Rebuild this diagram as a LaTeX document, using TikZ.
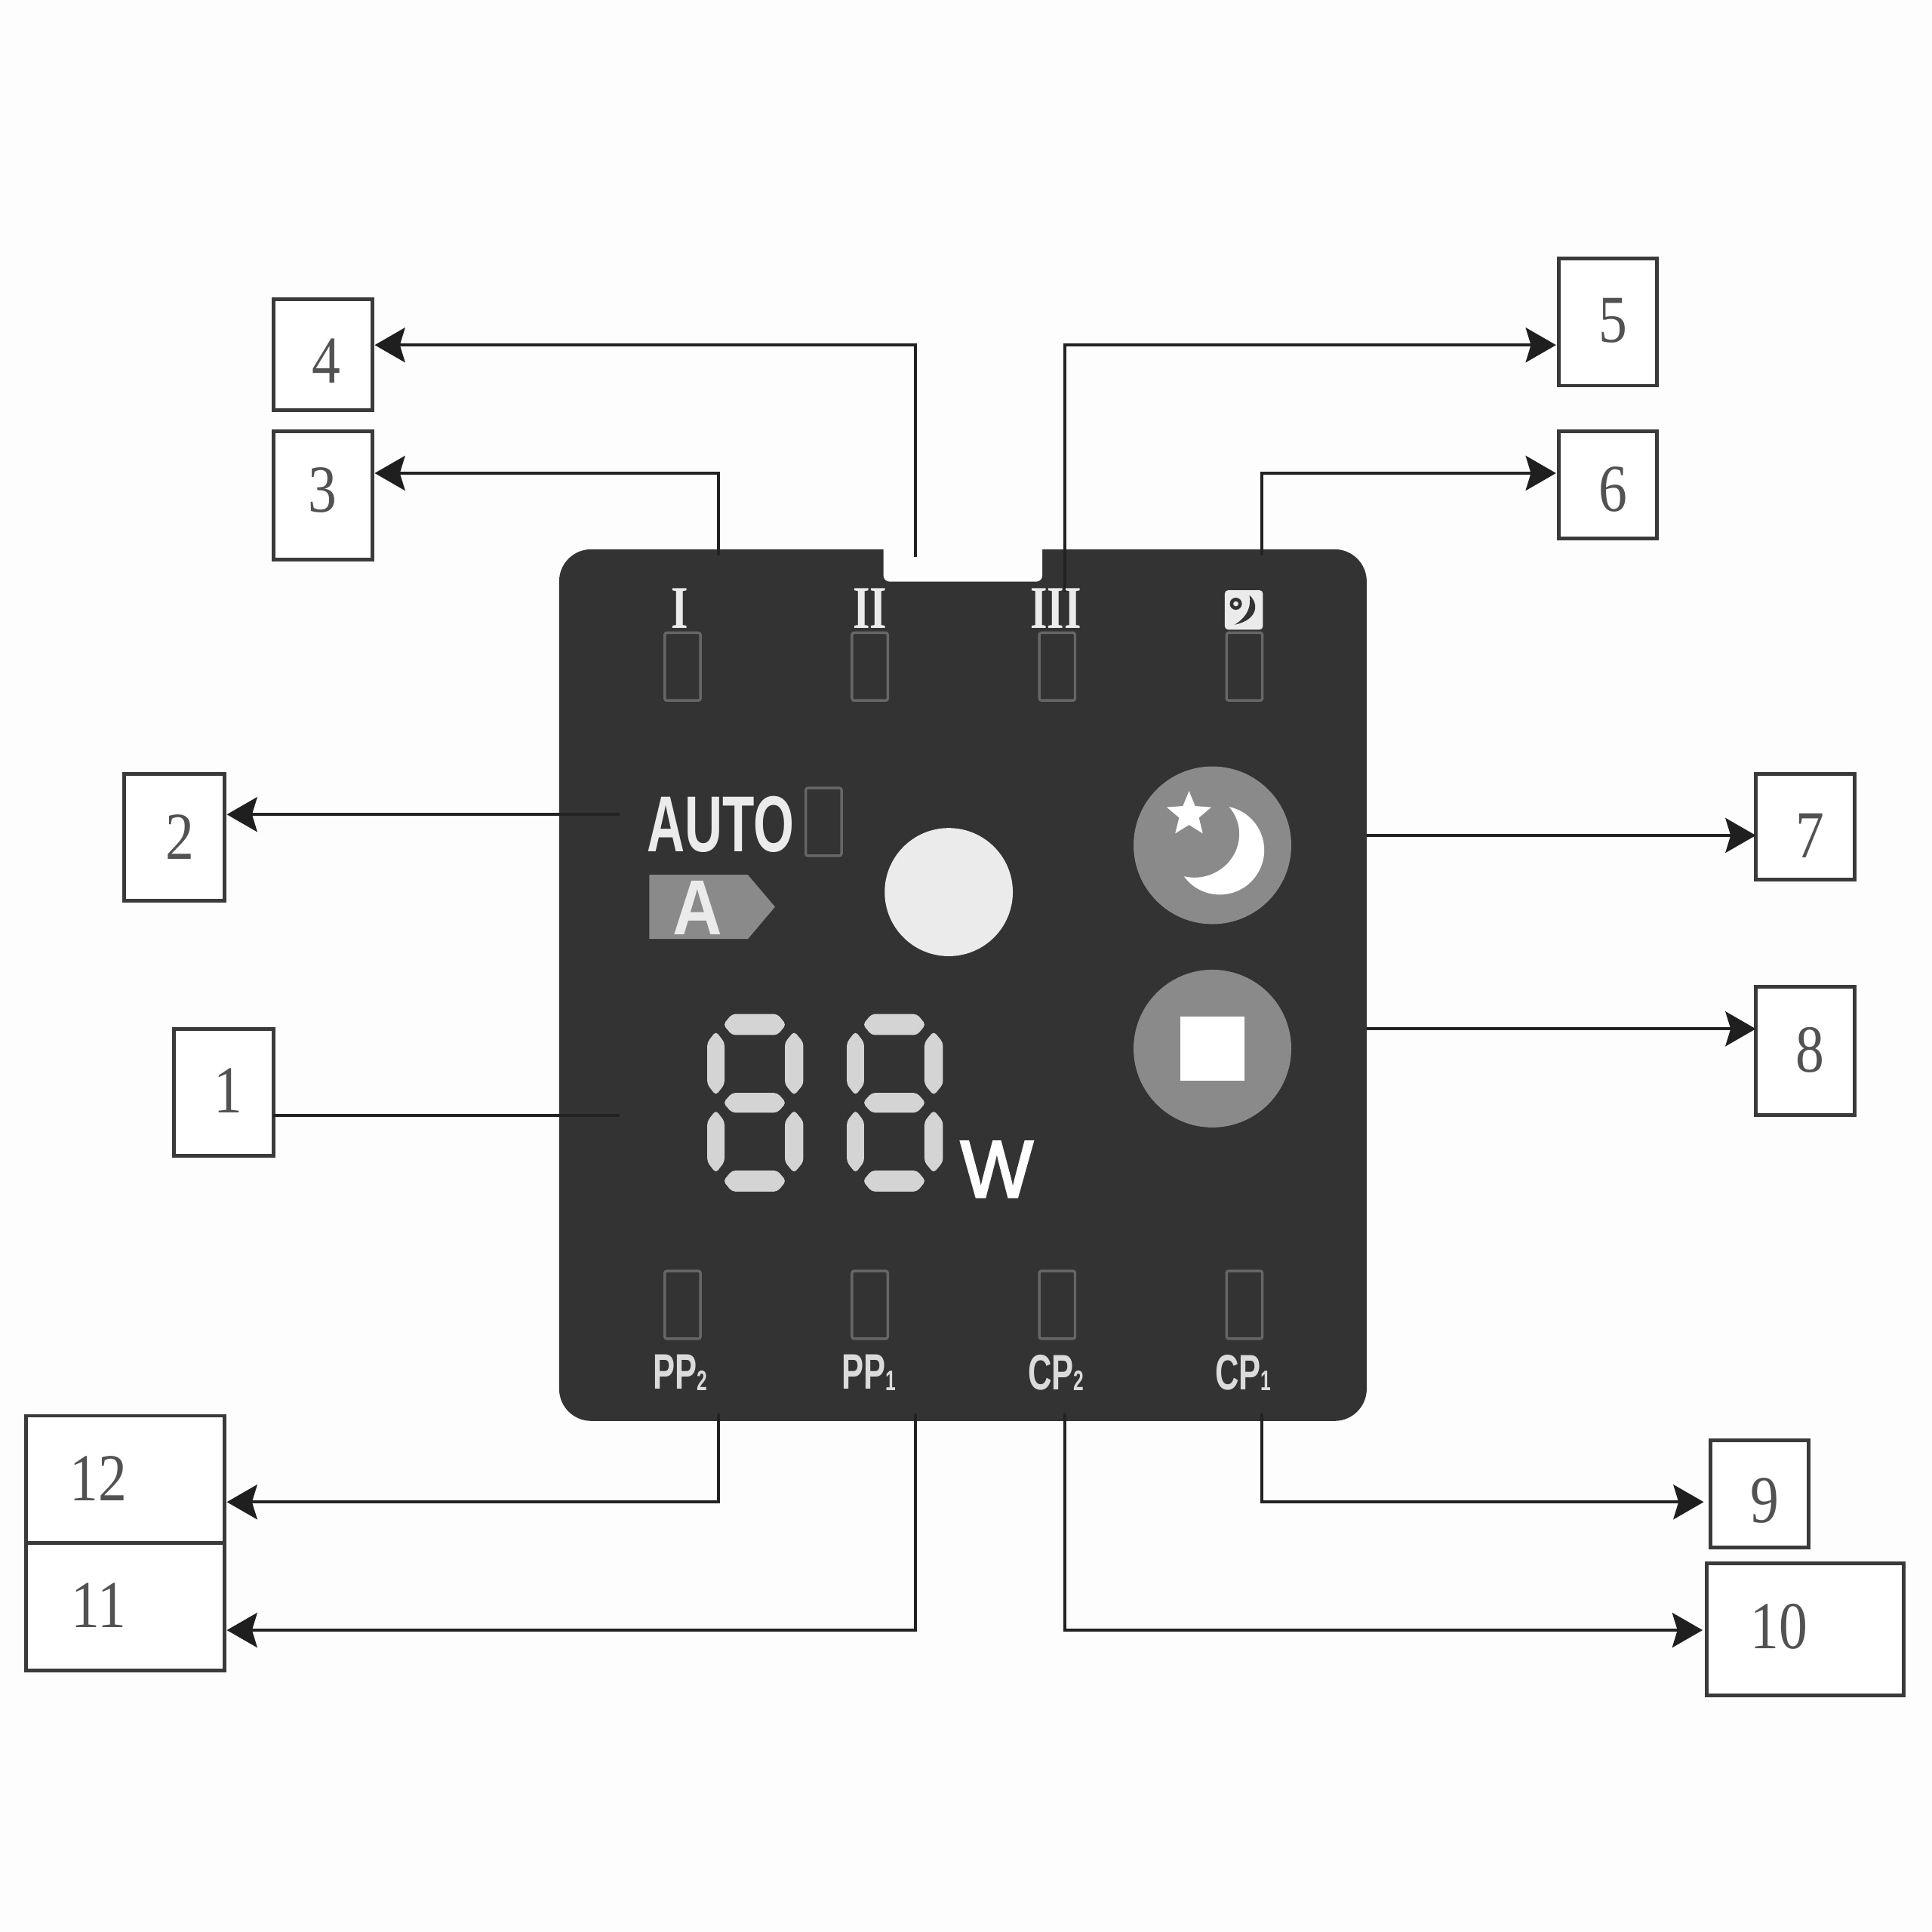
\documentclass[tikz,border=0pt]{standalone}
\usepackage{fontspec}
\usetikzlibrary{arrows.meta,shapes.geometric,calc}
\setmainfont{Liberation Sans}
\newfontfamily\numfont[FakeStretch=0.85]{Liberation Serif}
\newfontfamily\romfont[FakeStretch=0.72]{Liberation Serif}
\newfontfamily\autofont[FakeStretch=0.66]{Liberation Sans}
\newfontfamily\tagfont[FakeStretch=0.88]{Liberation Sans}
\newfontfamily\wfont[FakeStretch=0.95,FakeBold=2.5]{Liberation Sans}
\definecolor{panelc}{HTML}{333333}
\definecolor{linec}{HTML}{222222}
\definecolor{boxc}{HTML}{3A3A3A}
\definecolor{greyc}{HTML}{8A8A8A}
\definecolor{ledc}{HTML}{666666}
\definecolor{segc}{HTML}{D4D4D4}
\definecolor{pagec}{HTML}{FDFDFD}
\tikzset{
  numbox/.style={draw=boxc,line width=0.85pt,fill=white,inner sep=0pt,outer sep=0pt},
  numtext/.style={font=\numfont\fontsize{15.5}{15.5}\selectfont,text=black!68,inner sep=0pt},
  conn/.style={draw=linec,line width=0.7pt},
  arr/.style={conn,-{Stealth[length=7pt,width=8pt,inset=1.2pt,color=black!88]}},
  ledbox/.style={draw=ledc,line width=0.6pt,rounded corners=0.5pt,inner sep=0pt,minimum width=0.29cm,minimum height=0.55cm},
  romtext/.style={font=\romfont\bfseries\fontsize{14}{14}\selectfont,text=white!92!black,inner sep=0pt},
  pptext/.style={font=\autofont\bfseries\fontsize{11.5}{11.5}\selectfont,text=white!86!black,inner sep=0pt},
}
\newcommand\boxat[5]{%
  \pgfmathsetmacro\bw{(#4-#2)*0.01}\pgfmathsetmacro\bh{(#5-#3)*0.01}%
  \node[numbox,minimum width=\bw cm,minimum height=\bh cm] (#1) at ({(#2+#4)/2},{(#3+#5)/2}) {};}
\newcommand\sub[1]{\raisebox{-0.2pt}{\fontsize{6.5}{6.5}\selectfont #1}}
\begin{document}
\begin{tikzpicture}[x=0.01cm,y=-0.01cm]
\useasboundingbox[fill=pagec] (0,0) rectangle (1568,1568);

% panel
\node[fill=panelc,rounded corners=0.26cm,inner sep=0pt,outer sep=0pt,minimum width=6.55cm,minimum height=7.07cm] (panel) at (781.5,799.5) {};
\fill[pagec,rounded corners=1.4pt] (717,440) -- (717,472) -- (846,472) -- (846,440) -- cycle;

% boxes
\boxat{b4}{222}{243}{302}{333}
\boxat{b3}{222}{350}{302}{454}
\boxat{b5}{1265}{210}{1345}{313}
\boxat{b6}{1265}{350}{1345}{437}
\boxat{b2}{101}{628}{182}{731}
\boxat{b1}{141}{835}{222}{938}
\boxat{b7}{1425}{628}{1505}{714}
\boxat{b8}{1425}{801}{1505}{905}
\boxat{b12}{21}{1149}{182}{1252}
\boxat{b11}{21}{1252}{182}{1356}
\boxat{b9}{1388}{1169}{1468}{1256}
\boxat{b10}{1385}{1269}{1545}{1376}

\node[numtext] (t4) at (265,293) {4};
\node[numtext] (t3) at (262,398) {3};
\node[numtext] (t5) at (1309,260) {5};
\node[numtext] (t6) at (1309,397) {6};
\node[numtext] (t2) at (146,679) {2};
\node[numtext] (t1) at (185,885) {1};
\node[numtext] (t7) at (1469,678) {7};
\node[numtext] (t8) at (1469,852) {8};
\node[numtext] (t12) at (80,1200) {12};
\node[numtext] (t11) at (80,1303) {11};
\node[numtext] (t9) at (1432,1218) {9};
\node[numtext] (t10) at (1444,1320) {10};

% connector free ends
\coordinate (s4) at (743,452);
\coordinate (s3) at (583,451);
\coordinate (s5) at (864,480);
\coordinate (s6) at (1024,451);
\coordinate (s2) at (503,661);
\coordinate (s1) at (503,905);
\coordinate (s12) at (583,1147);
\coordinate (s11) at (743,1147);
\coordinate (s10) at (864,1147);
\coordinate (s9) at (1024,1147);

\draw[arr,shorten >=0.6pt] (s4) -- (s4 |- 0,280) -- (b4.east |- 0,280);
\draw[arr,shorten >=0.6pt] (s3) -- (s3 |- 0,384) -- (b3.east |- 0,384);
\draw[arr,shorten >=0.6pt] (s5) -- (s5 |- 0,280) -- (b5.west |- 0,280);
\draw[arr,shorten >=0.6pt] (s6) -- (s6 |- 0,384) -- (b6.west |- 0,384);
\draw[arr,shorten >=0.6pt] (s2) -- (b2.east |- s2);
\draw[conn] (b1.east |- s1) -- (s1);
\draw[arr] (panel.east |- 0,678) -- (b7.west |- 0,678);
\draw[arr] (panel.east |- 0,835) -- (b8.west |- 0,835);
\draw[arr,shorten >=0.6pt] (s12) -- (s12 |- 0,1219) -- (b12.east |- 0,1219);
\draw[arr,shorten >=0.6pt] (s11) -- (s11 |- 0,1323) -- (b11.east |- 0,1323);
\draw[arr,shorten >=1.5pt] (s9) -- (s9 |- 0,1219) -- (b9.west |- 0,1219);
\draw[arr,shorten >=0.9pt] (s10) -- (s10 |- 0,1323) -- (b10.west |- 0,1323);

% LED windows
\foreach \n/\x in {a/554,b/706,c/858,d/1010}{
  \node[ledbox] (top\n) at (\x,541) {};
  \node[ledbox] (bot\n) at (\x,1059) {};
}
\node[ledbox] (autoled) at (668.5,667) {};

% top labels
\node[romtext] (r1) at (552,494) {I};
\node[romtext] (r2) at (706,494) {II};
\node[romtext] (r3) at (857,494) {III};
\fill[white!92!black,rounded corners=0.8pt] (994,479) rectangle (1025,511);
\draw[panelc,line width=0.8pt] (1003,490) circle (3.5);
\fill[panelc] (1014,483) .. controls (1022,490) and (1021,503) .. (1002,507) .. controls (1012,501) and (1016,492) .. (1014,483) -- cycle;

% bottom labels
\node[pptext] (l1) at (552,1114) {PP\sub{2}};
\node[pptext] (l2) at (705,1114) {PP\sub{1}};
\node[pptext] (l3) at (857,1114) {CP\sub{2}};
\node[pptext] (l4) at (1009,1114) {CP\sub{1}};

% AUTO and tag
\node[font=\autofont\bfseries\fontsize{18.3}{18.3}\selectfont,text=white!92!black,inner sep=0pt] (auto) at (585,669) {AUTO};
\fill[greyc] (527,710) -- (607,710) -- (629,736) -- (607,762) -- (527,762) -- cycle;
\node[font=\tagfont\bfseries\fontsize{18}{18}\selectfont,text=white!92!black,inner sep=0pt] (atag) at (566,737) {A};

% big disc and buttons
\fill[white!92!black] (770,724) circle (52);
\fill[greyc] (984,686) circle (64);
\fill[greyc] (984,851) circle (64);
\fill[white] (958,825) rectangle (1010,877);
\node[star,star points=5,star point ratio=2.25,fill=white,inner sep=0pt,minimum size=0.38cm] (starn) at (965,661) {};
\fill[white] (997.5,654.8) .. controls (1022.2,660.1) and (1034,688.4) .. (1020.2,709.6)
  .. controls (1006.4,730.8) and (975.8,731.7) .. (960.9,711.2)
  .. controls (975.9,714.8) and (991.8,708.6) .. (1000.2,695.7)
  .. controls (1008.6,682.8) and (1007.5,666.1) .. (997.5,654.8) -- cycle;

% seven-segment digits
\foreach \dx in {0,113.3}{
  \begin{scope}[xshift=\dx*0.01cm,rounded corners=0.8pt]
    \foreach \ya/\yb in {823/840,887/903,950/967}{
      \fill[segc] (587,{(\ya+\yb)/2}) -- (594,\ya) -- (631,\ya) -- (638,{(\ya+\yb)/2}) -- (631,\yb) -- (594,\yb) -- cycle;
    }
    \foreach \xa/\xb in {574/588,637/652}{
      \foreach \ya/\yb in {837/889,901/952}{
        \fill[segc] ({(\xa+\xb)/2},\ya) -- (\xb,{\ya+9}) -- (\xb,{\yb-9}) -- ({(\xa+\xb)/2},\yb) -- (\xa,{\yb-9}) -- (\xa,{\ya+9}) -- cycle;
      }
    }
  \end{scope}
}
\node[font=\wfont\fontsize{18.7}{18.7}\selectfont,text=white,inner sep=0pt] (watt) at (809,949) {W};
\end{tikzpicture}
\end{document}
